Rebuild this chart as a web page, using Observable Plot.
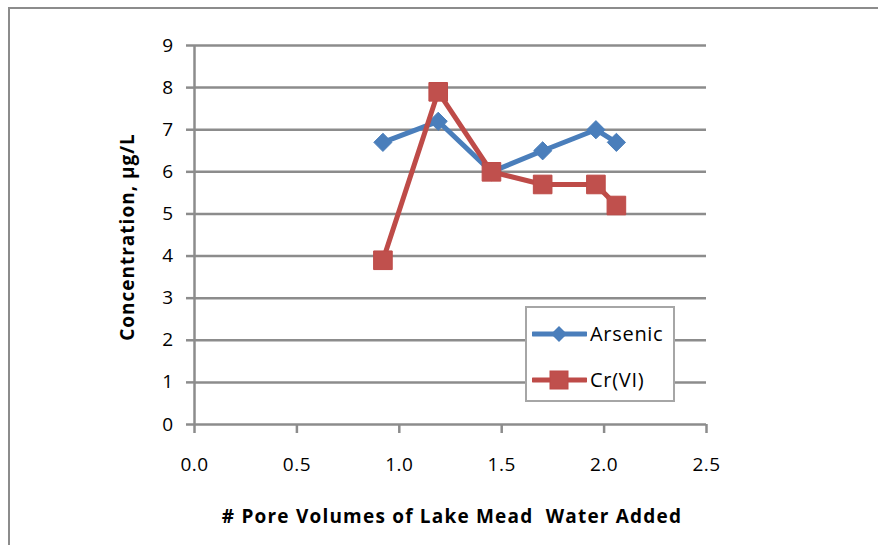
<!DOCTYPE html>
<html>
<head>
<meta charset="utf-8">
<script src="https://cdn.jsdelivr.net/npm/d3@7"></script>
<script src="https://cdn.jsdelivr.net/npm/@observablehq/plot@0.6"></script>
<style>
  body { margin: 0; background: #fff; }
  #wrap { position: relative; width: 878px; height: 545px; overflow: hidden; font-family: "Open Sans", sans-serif; }
  #frame { position: absolute; left: 8px; top: 7px; width: 900px; height: 600px; border-top: 2.5px solid #8c8c8c; border-left: 2.5px solid #8c8c8c; }
  #chart { position: absolute; left: 0; top: 0; }
  #chart text { letter-spacing: 0.5px; }
  .ytitle { position: absolute; left: 127px; top: 237px; transform: translate(-50%, -50%) rotate(-90deg); font-weight: bold; font-size: 19px; letter-spacing: 1px; white-space: nowrap; color: #000; }
  .xtitle { position: absolute; left: 452px; top: 516px; transform: translate(-50%, -50%); font-weight: bold; font-size: 19px; letter-spacing: 1.2px; white-space: nowrap; color: #000; }
  #legend { position: absolute; left: 525px; top: 306px; width: 146px; height: 92px; border: 2px solid #a6a6a6; background: #fff; }
  .item { position: absolute; left: 0; display: flex; align-items: center; font-size: 20px; letter-spacing: 0.7px; color: #000; }
  .item svg { margin-left: 5px; margin-right: 3px; }
</style>
</head>
<body>
<div id="wrap">
  <div id="frame"></div>
  <div id="chart"></div>
  <div class="ytitle">Concentration, µg/L</div>
  <div class="xtitle"># Pore Volumes of Lake Mead&nbsp; Water Added</div>
  <div id="legend"></div>
</div>
<script>
const poreVolumes = [0.92, 1.19, 1.45, 1.70, 1.96, 2.06];
const arsenic = [6.7, 7.2, 6.0, 6.5, 7.0, 6.7];
const crVI = [3.9, 7.9, 6.0, 5.7, 5.7, 5.2];
const xTicks = [0, 0.5, 1.0, 1.5, 2.0, 2.5];
const yTicks = [0, 1, 2, 3, 4, 5, 6, 7, 8, 9];
const seriesNames = ["Arsenic", "Cr(VI)"];
const seriesColors = ["#4A7EBB", "#BE4B48"];

const asData = poreVolumes.map((x, i) => ({x, y: arsenic[i]}));
const crData = poreVolumes.map((x, i) => ({x, y: crVI[i]}));
const grid = "#8c8c8c";

const chart = Plot.plot({
  width: 878,
  height: 545,
  marginLeft: 194,
  marginRight: 172,
  marginTop: 45,
  marginBottom: 121,
  style: {fontFamily: "Open Sans, sans-serif", background: "transparent", color: "#000"},
  x: {domain: [0, 2.5]},
  y: {domain: [0, 9]},
  marks: [
    Plot.ruleY(yTicks.filter(d => d > 0), {x1: 0, x2: 2.5, stroke: grid, strokeWidth: 2.5}),
    Plot.axisY({ticks: yTicks, tickSize: 8, tickPadding: 13, stroke: grid, strokeWidth: 2.5, fontSize: 19, fill: "#000", label: null}),
    Plot.axisX({ticks: xTicks, tickSize: 9, tickPadding: 24, stroke: grid, strokeWidth: 2.5, fontSize: 19, fill: "#000", tickFormat: d => d.toFixed(1), label: null}),
    Plot.ruleX([0], {y1: 0, y2: 9, stroke: grid, strokeWidth: 2.5}),
    Plot.ruleY([0], {x1: 0, x2: 2.5, stroke: grid, strokeWidth: 2.5}),
    Plot.line(asData, {x: "x", y: "y", stroke: seriesColors[0], strokeWidth: 5}),
    Plot.dot(asData, {x: "x", y: "y", symbol: "diamond2", r: 8.2, fill: seriesColors[0], stroke: seriesColors[0], strokeWidth: 1}),
    Plot.line(crData, {x: "x", y: "y", stroke: seriesColors[1], strokeWidth: 5}),
    Plot.dot(crData, {x: "x", y: "y", symbol: "square", r: 10.5, fill: "#C0504D", stroke: seriesColors[1], strokeWidth: 1})
  ]
});
document.getElementById("chart").appendChild(chart);

const legend = document.getElementById("legend");
seriesNames.forEach((name, i) => {
  const item = document.createElement("div");
  item.className = "item";
  item.style.top = (i === 0 ? 12 : 58) + "px";
  const marker = i === 0
    ? `<path d="M27,4 L35,12 L27,20 L19,12 Z" fill="${seriesColors[0]}"/>`
    : `<rect x="18" y="3" width="18" height="18" fill="#C0504D" stroke="${seriesColors[1]}"/>`;
  item.innerHTML = `<svg width="55" height="24"><line x1="1" y1="12" x2="54" y2="12" stroke="${seriesColors[i]}" stroke-width="5" stroke-linecap="round"/>${marker}</svg><span>${name}</span>`;
  legend.appendChild(item);
});
</script>
</body>
</html>
